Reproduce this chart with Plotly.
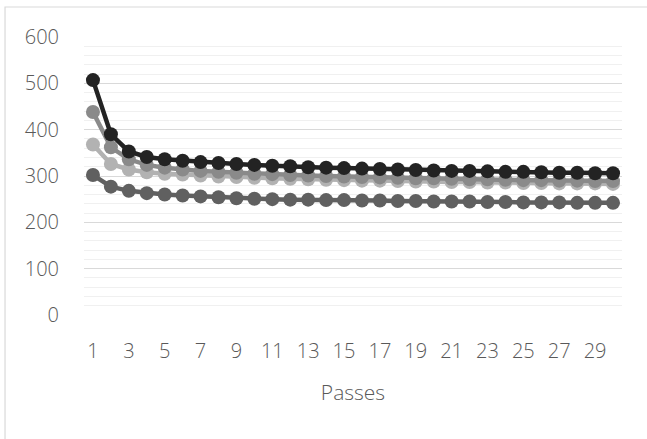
import plotly.graph_objects as go

passes = list(range(1, 31))
serie_dark = [302, 277, 268, 263, 260, 258, 256, 254, 252, 251, 250, 249, 249, 248, 248,
              247, 247, 246, 246, 245, 245, 245, 244, 244, 243, 243, 243, 242, 242, 242]
serie_light = [368, 326, 314, 308, 305, 303, 301, 299, 298, 296, 295, 294, 293, 292, 291,
               290, 290, 289, 288, 288, 287, 287, 286, 286, 285, 285, 284, 284, 284, 283]
serie_mid = [438, 362, 336, 324, 318, 314, 311, 309, 307, 305, 304, 302, 301, 300, 299,
             298, 297, 296, 295, 295, 294, 293, 293, 292, 291, 291, 290, 290, 289, 289]
serie_black = [507, 390, 353, 341, 336, 333, 330, 328, 326, 324, 322, 321, 319, 318, 317,
               316, 315, 314, 313, 312, 311, 311, 310, 309, 309, 308, 307, 307, 306, 306]

series = [
    ("S1", serie_dark, "#606060"),
    ("S2", serie_light, "#b2b2b2"),
    ("S3", serie_mid, "#8a8a8a"),
    ("S4", serie_black, "#232323"),
]

fig = go.Figure()
for name, vals, col in series:
    fig.add_trace(go.Scatter(
        x=passes, y=vals, name=name, mode="lines+markers",
        line=dict(color=col, width=4.5),
        marker=dict(color=col, size=14),
        showlegend=False,
    ))

font_fam = "Open Sans, Noto Sans, sans-serif"
tick_font = dict(family=font_fam, size=20, color="#595959", weight=300)

fig.update_layout(
    width=647, height=439,
    margin=dict(l=84, r=25, t=37, b=124),
    paper_bgcolor="white", plot_bgcolor="white",
    font=tick_font,
    xaxis=dict(
        range=[0.5, 30.5], tick0=1, dtick=2, tickmode="linear",
        showgrid=False, zeroline=False, showline=False,
        ticks="outside", ticklen=18, tickcolor="rgba(0,0,0,0)",
        tickfont=tick_font,
        title=dict(text="Passes", font=dict(family=font_fam, size=21, color="#595959", weight=300), standoff=22),
    ),
    yaxis=dict(
        range=[0, 600], dtick=100, tick0=0,
        showgrid=True, gridcolor="#d9d9d9", gridwidth=1,
        minor=dict(dtick=20, showgrid=True, gridcolor="#f0f0f0", gridwidth=1),
        zeroline=False, showline=False,
        ticks="outside", ticklen=20, tickcolor="rgba(0,0,0,0)",
        tickfont=tick_font,
    ),
    shapes=[dict(type="rect", xref="paper", yref="paper",
                 x0=-0.1468, x1=1.3, y0=-0.6, y1=1.1079,
                 line=dict(color="#d9d9d9", width=1.2), layer="below")],
)

fig.write_html("out.html", config={"displayModeBar": False},
               post_script="document.body.style.margin='0';")
